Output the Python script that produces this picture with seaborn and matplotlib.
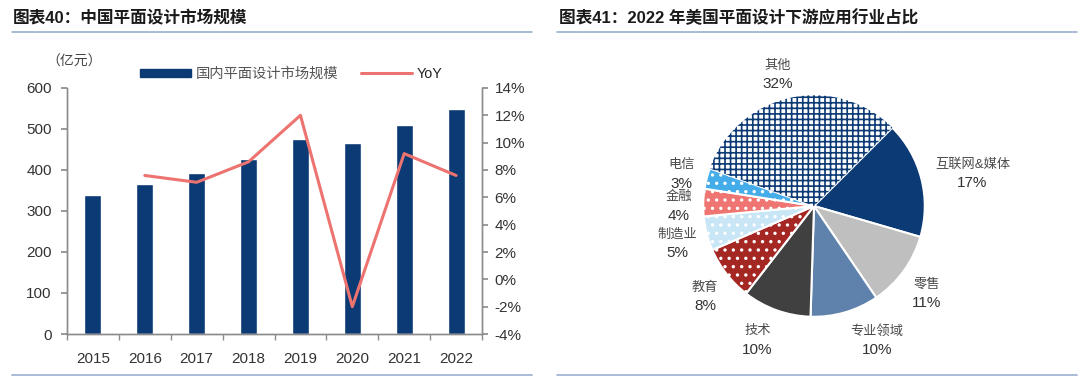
import matplotlib
matplotlib.use('Agg')
import matplotlib.pyplot as plt
import seaborn as sns
import numpy as np
from matplotlib.lines import Line2D
from matplotlib.patches import Patch

# --- data ---
years = ['2015', '2016', '2017', '2018', '2019', '2020', '2021', '2022']
market_size = [340, 366, 392, 426, 476, 467, 510, 549]          # 亿元
yoy = [np.nan, 7.6, 7.1, 8.6, 12.0, -2.0, 9.2, 7.6]               # %

pie_labels = ['互联网&媒体', '零售', '专业领域', '技术', '教育', '制造业', '金融', '电信', '其他']
pie_shares = [17, 11, 10, 10, 8, 5, 4, 3, 32]

# --- style ---
NAVY = '#0b3a74'
RED = '#ec7370'
GRAY_AX = '#8c8c8c'
RULE = '#a3b6d2'

pie_colors = ['#0b3a74', '#bfbfbf', '#5f82ac', '#404040', '#a52724',
              '#c9e6f7', '#ef7572', '#45acea', 'white']
pie_hatches = [None, None, None, None, '..', '..', '..', '..', '+++']
label_r = [1.46, 1.29, 1.34, 1.32, 1.28, 1.28, 1.22, 1.23, 1.23]
label_dth = [-3, -2, 9, -3, 2, 1, 2, 1, 3]

sns.set_theme(style='white')
plt.rcParams['font.family'] = ['Liberation Sans', 'Noto Sans CJK SC']
plt.rcParams['hatch.linewidth'] = 1.2

fig = plt.figure(figsize=(10.8, 3.86), dpi=100)

# titles and rules
fig.text(13 / 1080, 1 - 18 / 386, '图表40：中国平面设计市场规模', fontsize=12,
         fontweight='bold', va='center', color='#1a1a1a')
fig.text(559 / 1080, 1 - 18 / 386, '图表41：2022 年美国平面设计下游应用行业占比', fontsize=12,
         fontweight='bold', va='center', color='#1a1a1a')
for x0, x1 in [(12, 532), (557, 1077)]:
    for yy in [32, 375]:
        fig.add_artist(Line2D([x0 / 1080, x1 / 1080], [1 - yy / 386, 1 - yy / 386],
                              color=RULE, lw=1.3))

# --- left: bar + line ---
ax = fig.add_axes([67 / 1080, 1 - 334 / 386, 415 / 1080, 246 / 386])
sns.barplot(x=years, y=market_size, color=NAVY, saturation=1, width=0.33, ax=ax)
ax.set_xlim(-0.5, len(years) - 0.5)
ax.set_ylim(0, 600)
ax.set_yticks(range(0, 601, 100))
ax.set_xlabel('')
ax.set_ylabel('')

ax2 = ax.twinx()
sns.lineplot(x=np.arange(len(years)), y=yoy, color=RED, lw=2.2, ax=ax2)
ax2.set_ylim(-4, 14)
ax2.set_yticks(range(-4, 15, 2))
ax2.set_yticklabels([f'{v}%' for v in range(-4, 15, 2)])

for a in (ax, ax2):
    a.spines['top'].set_visible(False)
    for s in ('left', 'right', 'bottom'):
        a.spines[s].set_color(GRAY_AX)
        a.spines[s].set_linewidth(1.0)
ax.tick_params(axis='y', left=True, direction='out', length=4, color=GRAY_AX,
               labelsize=11, labelcolor='#333333', pad=7)
ax2.tick_params(axis='y', right=True, direction='out', length=4, color=GRAY_AX,
                labelsize=11, labelcolor='#333333', pad=5)
ax.set_xticks(np.arange(-0.5, len(years), 1), minor=True)
ax.tick_params(axis='x', which='minor', bottom=True, direction='out', length=4, color=GRAY_AX)
ax.tick_params(axis='x', which='major', bottom=False, labelsize=11, labelcolor='#333333', pad=7)

fig.text(46 / 1080, 1 - 62 / 386, '（亿元）', fontsize=10, color='#444444', va='center')

handles = [Patch(color=NAVY), Line2D([], [], color=RED, lw=2.2)]
leg = fig.legend(handles, ['国内平面设计市场规模', 'YoY'], loc='center',
                 bbox_to_anchor=(291 / 1080, 1 - 74 / 386), ncol=2, frameon=False,
                 fontsize=10.3, handlelength=3.6, handleheight=0.5, columnspacing=1.6,
                 handletextpad=0.3)
for t, c in zip(leg.get_texts(), ['#555555', '#222222']):
    t.set_color(c)

# --- right: pie ---
R = 113
cx, cy = 814, 206
ax3 = fig.add_axes([(cx - R) / 1080, 1 - (cy + R) / 386, 2 * R / 1080, 2 * R / 386])
wedges, _ = ax3.pie(pie_shares, colors=pie_colors, startangle=45, counterclock=False,
                    wedgeprops=dict(edgecolor='white', linewidth=1.5))
for w, h in zip(wedges, pie_hatches):
    if h:
        w.set_hatch(h)
wedges[-1].set_edgecolor(NAVY)
wedges[-1].set_linewidth(0)
ax3.set_xlim(-1.02, 1.02)
ax3.set_ylim(-1.02, 1.02)
ax3.axis('off')

for w, lab, share, r, dth in zip(wedges, pie_labels, pie_shares, label_r, label_dth):
    ang = np.deg2rad((w.theta1 + w.theta2) / 2 + dth)
    x, y = r * np.cos(ang), r * np.sin(ang)
    ax3.text(x, y + 0.085, lab, ha='center', va='center', fontsize=9.5,
             color='#4a4a4a', clip_on=False)
    ax3.text(x, y - 0.085, f'{share}%', ha='center', va='center', fontsize=11,
             color='#333333', clip_on=False)

fig.savefig('out.png', dpi=100)
